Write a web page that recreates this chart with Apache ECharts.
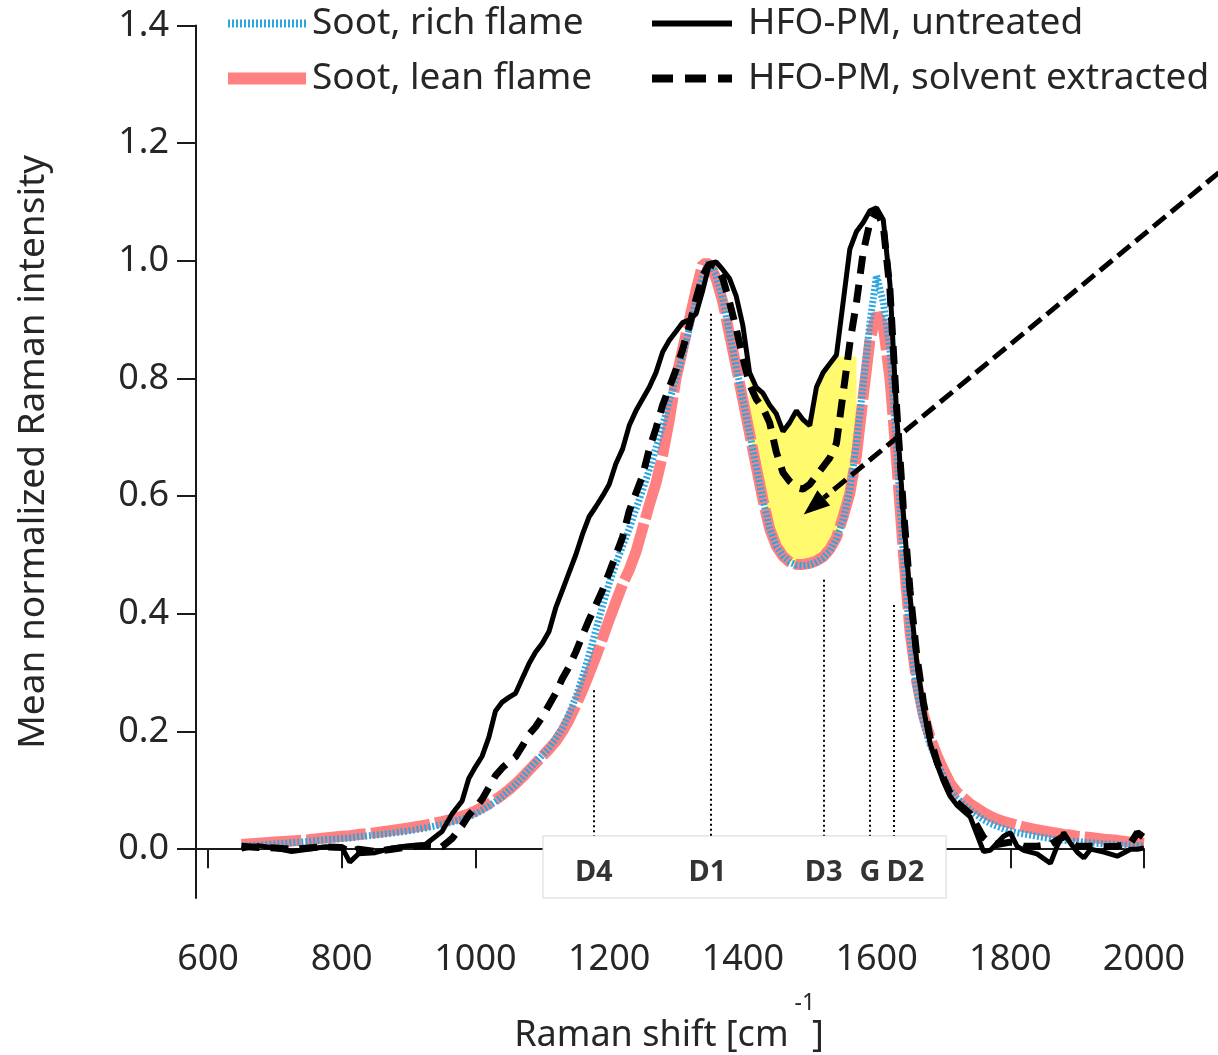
<!DOCTYPE html>
<html><head><meta charset="utf-8">
<script src="https://cdn.jsdelivr.net/npm/echarts@6/dist/echarts.min.js"></script>
<style>html,body{margin:0;padding:0;background:#fff}#chart{width:1218px;height:1055px}</style>
</head><body><div id="chart"></div>
<script>
// ---- data ----
const ramanShift = [
  650,675,700,725,750,775,800,812,825,850,
  875,900,925,950,965,980,990,1000,1010,1020,
  1030,1040,1050,1060,1070,1080,1090,1100,1110,1120,
  1130,1140,1150,1160,1170,1180,1190,1200,1210,1220,
  1230,1240,1250,1260,1270,1280,1290,1300,1310,1320,
  1330,1340,1350,1360,1370,1380,1390,1400,1410,1420,
  1430,1440,1450,1460,1470,1480,1490,1500,1510,1520,
  1530,1540,1550,1560,1570,1580,1590,1600,1610,1620,
  1630,1640,1650,1660,1670,1680,1690,1700,1710,1720,
  1740,1760,1770,1780,1790,1800,1810,1820,1840,1860,
  1870,1880,1890,1900,1910,1920,1940,1960,1980,1990,2000
];
const sootRich = [
  .005,.007,.009,.011,.013,.016,.018,.019,.021,.024,
  .027,.031,.036,.042,.046,.051,.055,.060,.066,.073,
  .081,.090,.100,.110,.122,.135,.148,.160,.172,.188,
  .206,.230,.258,.292,.330,.372,.413,.452,.485,.515,
  .545,.578,.610,.645,.682,.720,.762,.800,.840,.885,
  .935,.975,1.0,.975,.935,.878,.820,.764,.707,.650,
  .594,.545,.515,.498,.488,.483,.482,.483,.488,.495,
  .507,.528,.560,.610,.690,.790,.895,.975,.930,.850,
  .680,.500,.360,.270,.215,.178,.150,.124,.101,.087,
  .066,.050,.044,.039,.035,.031,.028,.026,.022,.018,
  .016,.015,.014,.013,.012,.011,.009,.008,.006,.006,.005
];
const sootLean = [
  .008,.010,.012,.014,.016,.019,.022,.023,.025,.028,
  .032,.036,.041,.047,.051,.056,.060,.065,.071,.077,
  .084,.092,.101,.111,.122,.134,.146,.158,.170,.183,
  .200,.220,.244,.270,.298,.327,.358,.390,.420,.450,
  .475,.505,.545,.585,.622,.670,.730,.800,.850,.900,
  .950,.995,.995,.970,.930,.875,.820,.764,.707,.650,
  .594,.545,.515,.498,.488,.484,.484,.486,.490,.497,
  .510,.530,.565,.605,.670,.770,.865,.910,.890,.800,
  .660,.505,.370,.285,.228,.190,.160,.135,.112,.097,
  .077,.062,.056,.051,.047,.044,.041,.038,.033,.029,
  .027,.025,.024,.022,.021,.020,.017,.015,.012,.011,.010
];
const hfoUntreated = [
  .000,.006,.002,-.004,.000,.004,.004,-.022,-.008,-.006,
  .002,.006,.008,.030,.060,.082,.120,.140,.158,.190,
  .235,.250,.258,.265,.290,.315,.335,.350,.370,.410,
  .440,.470,.500,.535,.565,.582,.600,.620,.655,.680,
  .720,.745,.765,.785,.810,.845,.865,.880,.895,.900,
  .910,.950,.995,.998,.985,.970,.940,.890,.810,.785,
  .775,.755,.740,.710,.725,.745,.730,.720,.785,.810,
  .825,.840,.930,1.020,1.050,1.065,1.085,1.090,1.070,.960,
  .740,.570,.430,.320,.240,.180,.145,.115,.090,.075,
  .055,-.004,-.002,.010,.022,.028,.005,-.002,-.008,-.024,
  .005,.028,.010,-.005,-.015,.000,-.005,-.012,.000,.000,.002
];
const hfoExtracted = [
  .005,.003,.002,.000,.002,.004,.003,-.005,.000,-.004,
  .000,.004,.006,.004,.018,.040,.058,.070,.085,.105,
  .125,.138,.148,.157,.175,.195,.208,.225,.245,.265,
  .290,.310,.335,.363,.390,.415,.440,.470,.500,.530,
  .575,.605,.635,.680,.715,.755,.785,.815,.850,.890,
  .935,.975,.995,.990,.970,.930,.885,.835,.790,.765,
  .750,.725,.675,.640,.625,.615,.612,.620,.635,.650,
  .665,.690,.775,.860,.930,1.015,1.065,1.085,1.060,.950,
  .750,.580,.440,.330,.250,.190,.150,.120,.095,.080,
  .060,.020,.010,.008,.010,.012,.010,.005,.005,.008,
  .015,.022,.010,.005,.005,.005,.004,.005,.010,.028,.020
];
const xTicks = [600,800,1000,1200,1400,1600,1800,2000];
const yTicks = [0,0.2,0.4,0.6,0.8,1.0,1.2,1.4];
const xRange = [582, 2000];
const yRange = [-0.083, 1.4];
const bandNames = ['D4','D1','D3','G','D2'];
const bandPositions = [1177,1352,1521,1590,1625];
const bandLineTops = [0.27,0.91,0.458,0.628,0.415];
const bandLabelX = [1177,1347,1521,1590,1643];
const bandLabelY = -0.04;
const bandBoxX = [1101, 1704];
const bandBoxTop = 0.0226;
const fillRange = [1410, 1570];
const fillCap = 0.837;
const arrowFrom = [2112, 1.15];
const arrowTo = [1491, 0.569];

const FONT = 'Noto Sans';
const TXT = '#262626';
const LEGEND_FS = 37;
const pairs = ys => ramanShift.map((x, i) => [x, ys[i]]);
const hiddenSymbol = {color: 'rgba(0,0,0,0)', borderWidth: 0, opacity: 0};

const chart = echarts.init(document.getElementById('chart'), null, {renderer: 'canvas'});

const fillIdx = ramanShift.map((x, i) => i).filter(i => ramanShift[i] >= fillRange[0] && ramanShift[i] <= fillRange[1]);

const option = {
  animation: false,
  backgroundColor: '#fff',
  textStyle: {fontFamily: FONT},
  grid: {left: 196, right: 74, top: 25.5, bottom: 157, containLabel: false, outerBoundsMode: 'none'},
  legend: [
    {
      left: 222, top: 5, orient: 'vertical', itemWidth: 78, itemHeight: 12, itemGap: 18, padding: 0,
      textStyle: {fontFamily: FONT, fontSize: LEGEND_FS, color: TXT, padding: [0, 0, 0, 1]},
      data: [
        {name: 'Soot, rich flame', itemStyle: hiddenSymbol, lineStyle: {width: 8, type: [2, 2], color: '#2BA6E0'}},
        {name: 'Soot, lean flame', itemStyle: hiddenSymbol, lineStyle: {width: 12, type: 'solid', color: '#FF8080'}}
      ]
    },
    {
      left: 648, top: 5, orient: 'vertical', itemWidth: 80, itemHeight: 12, itemGap: 18, padding: 0,
      textStyle: {fontFamily: FONT, fontSize: LEGEND_FS, color: TXT, padding: [0, 0, 0, 11]},
      data: [
        {name: 'HFO-PM, untreated', itemStyle: hiddenSymbol, lineStyle: {width: 6, type: 'solid', color: '#000'}},
        {name: 'HFO-PM, solvent extracted', itemStyle: hiddenSymbol, lineStyle: {width: 8, type: [21, 12], color: '#000'}}
      ]
    }
  ],
  xAxis: {
    type: 'value', min: xRange[0], max: xRange[1],
    splitLine: {show: false},
    axisLine: {show: true, lineStyle: {color: '#1a1a1a', width: 2}},
    axisTick: {show: true, length: 19, lineStyle: {color: '#1a1a1a', width: 2}, customValues: xTicks},
    axisLabel: {customValues: xTicks, fontFamily: FONT, fontSize: 36, color: TXT, margin: 44,
      formatter: v => String(v)},
    name: '{a|Raman shift [cm }{s|-1}{a|]}{t| }',
    nameLocation: 'middle', nameGap: 94,
    nameTextStyle: {
      rich: {
        a: {fontFamily: FONT, fontSize: 36, color: TXT, verticalAlign: 'bottom', lineHeight: 38},
        s: {fontFamily: FONT, fontSize: 23, color: TXT, verticalAlign: 'top', lineHeight: 24, width: 14},
        t: {fontSize: 8, lineHeight: 62}
      }
    }
  },
  yAxis: {
    type: 'value', min: yRange[0], max: yRange[1],
    splitLine: {show: false},
    axisLine: {show: true, lineStyle: {color: '#1a1a1a', width: 2}},
    axisTick: {show: true, length: 19, lineStyle: {color: '#1a1a1a', width: 2}, customValues: yTicks},
    axisLabel: {customValues: yTicks, fontFamily: FONT, fontSize: 36, color: TXT, margin: 27,
      formatter: v => v.toFixed(1)},
    name: 'Mean normalized Raman intensity',
    nameLocation: 'middle', nameGap: 144,
    nameTextStyle: {fontFamily: FONT, fontSize: 37, color: TXT, padding: [0, 0, 0, 20]}
  },
  series: [
    {
      name: 'fill', type: 'custom', z: 1, silent: true,
      data: [[fillRange[0], fillCap]],
      renderItem: (params, api) => {
        const top = fillIdx.map(i => api.coord([ramanShift[i], Math.min(hfoUntreated[i], fillCap)]));
        const bot = fillIdx.slice().reverse().map(i => api.coord([ramanShift[i], sootRich[i]]));
        return {type: 'polygon', shape: {points: top.concat(bot)}, style: {fill: '#FFFA6E'}};
      }
    },
    {
      name: 'bands', type: 'line', z: 2, data: [], silent: true,
      markArea: {
        silent: true,
        itemStyle: {color: '#ffffff', borderColor: '#d6d6d6', borderWidth: 1},
        data: [[{coord: [bandBoxX[0], yRange[0]]}, {coord: [bandBoxX[1], bandBoxTop]}]]
      },
      markLine: {
        silent: true, symbol: ['none', 'none'], label: {show: false},
        lineStyle: {color: '#000', width: 2, type: [2, 3]},
        data: bandPositions.map((x, i) => [{coord: [x, bandLineTops[i]]}, {coord: [x, bandBoxTop]}])
      }
    },
    {
      name: 'bandLabels', type: 'scatter', z: 3, symbolSize: 0, silent: true,
      data: bandNames.map((n, i) => ({name: n, value: [bandLabelX[i], bandLabelY]})),
      label: {show: true, position: 'inside', formatter: p => p.name,
        fontFamily: FONT, fontWeight: 'bold', fontSize: 29, color: '#000'}
    },
    {
      name: 'Soot, lean flame', type: 'line', z: 4, symbol: 'none', data: pairs(sootLean),
      color: '#FF8080',
      lineStyle: {color: '#FF8080', width: 11, type: [60, 5]}
    },
    {
      name: 'Soot, rich flame', type: 'line', z: 5, symbol: 'none', data: pairs(sootRich),
      color: '#2BA6E0',
      lineStyle: {color: '#2BA6E0', width: 7, type: [2, 2]}
    },
    {
      name: 'HFO-PM, solvent extracted', type: 'line', z: 6, symbol: 'none', data: pairs(hfoExtracted),
      color: '#000',
      lineStyle: {color: '#000', width: 7, type: [18, 11]}
    },
    {
      name: 'HFO-PM, untreated', type: 'line', z: 7, symbol: 'none', data: pairs(hfoUntreated),
      color: '#000',
      lineStyle: {color: '#000', width: 5}
    }
  ]
};
chart.setOption(option);

// annotation arrow (positions converted from data coordinates)
const p0 = chart.convertToPixel({gridIndex: 0}, arrowFrom);
const p1 = chart.convertToPixel({gridIndex: 0}, arrowTo);
const dx = p1[0] - p0[0], dy = p1[1] - p0[1];
const len = Math.hypot(dx, dy), ux = dx / len, uy = dy / len;
const headL = 26, headW = 10;
const bx = p1[0] - ux * headL, by = p1[1] - uy * headL;
chart.setOption({
  graphic: [
    {type: 'line', z: 100, silent: true, shape: {x1: p0[0], y1: p0[1], x2: bx, y2: by},
      style: {stroke: '#000', lineWidth: 5, lineDash: [16, 7]}},
    {type: 'polygon', z: 100, silent: true,
      shape: {points: [[p1[0], p1[1]], [bx - uy * headW, by + ux * headW], [bx + uy * headW, by - ux * headW]]},
      style: {fill: '#000'}}
  ]
});
</script>
</body></html>
